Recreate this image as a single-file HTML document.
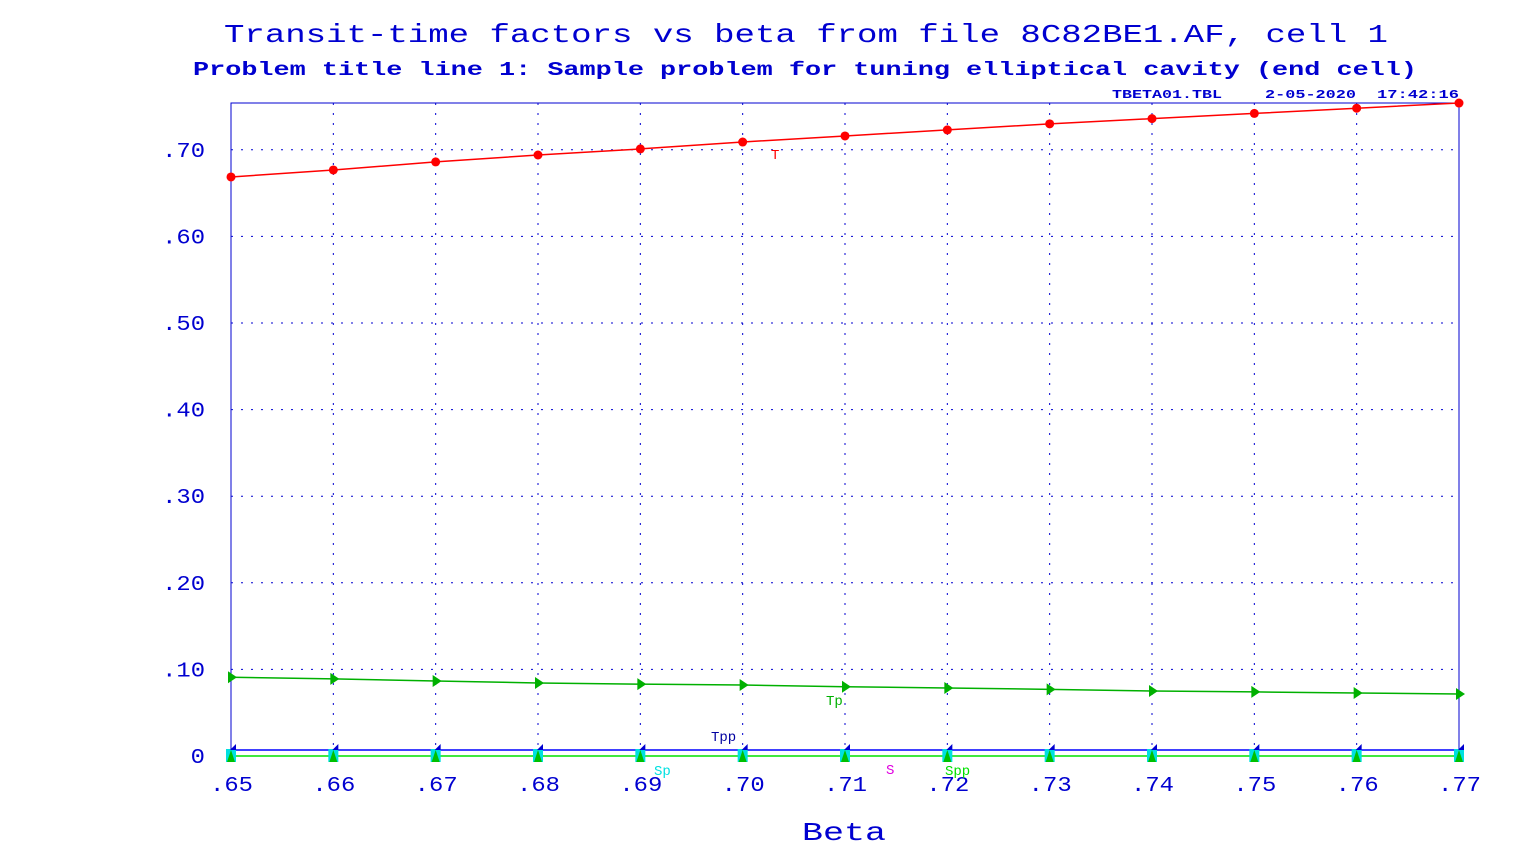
<!DOCTYPE html>
<html><head><meta charset="utf-8"><style>
body{margin:0;background:#fff;}
svg{display:block;font-family:"Liberation Mono",monospace;}
</style></head><body>
<svg id="c" width="1536" height="864">
<text x="224" y="42" font-size="26" fill="#0000d0" textLength="1164" lengthAdjust="spacingAndGlyphs">Transit-time factors vs beta from file 8C82BE1.AF, cell 1</text>
<text x="193" y="75" font-size="19" fill="#0000d0" font-weight="bold" textLength="1224" lengthAdjust="spacingAndGlyphs">Problem title line 1: Sample problem for tuning elliptical cavity (end cell)</text>
<text x="1112" y="98" font-size="12" font-weight="bold" fill="#0000d0" textLength="110" lengthAdjust="spacingAndGlyphs">TBETA01.TBL</text>
<text x="1265" y="98" font-size="12" font-weight="bold" fill="#0000d0" textLength="91" lengthAdjust="spacingAndGlyphs">2-05-2020</text>
<text x="1377" y="98" font-size="12" font-weight="bold" fill="#0000d0" textLength="82" lengthAdjust="spacingAndGlyphs">17:42:16</text>
<text x="802" y="840" font-size="26" fill="#0000d0" textLength="84" lengthAdjust="spacingAndGlyphs">Beta</text>
<g id="grid"></g><g id="marks"></g>
</svg>
<script>
const betas=[0.65,0.66,0.67,0.68,0.69,0.70,0.71,0.72,0.73,0.74,0.75,0.76,0.77];
const xTicks=[".65",".66",".67",".68",".69",".70",".71",".72",".73",".74",".75",".76",".77"];
const yTickVals=[0,0.1,0.2,0.3,0.4,0.5,0.6,0.7];
const yTicks=["0",".10",".20",".30",".40",".50",".60",".70"];
const T=[0.6686,0.6767,0.686,0.694,0.701,0.709,0.716,0.723,0.730,0.736,0.742,0.748,0.754];
const Tp=[0.091,0.089,0.0866,0.0843,0.083,0.082,0.080,0.0785,0.077,0.075,0.074,0.0727,0.0716];
const Tpp=[0.007,0.007,0.007,0.007,0.007,0.007,0.007,0.007,0.007,0.007,0.007,0.007,0.007];
const S=[0,0,0,0,0,0,0,0,0,0,0,0,0];
const Sp=[0,0,0,0,0,0,0,0,0,0,0,0,0];
const Spp=[0,0,0,0,0,0,0,0,0,0,0,0,0];
const NS="http://www.w3.org/2000/svg";
const X0=231,X1=1459,Y0=756,YTOP=103;
const xs=v=>X0+(v-0.65)/(0.77-0.65)*(X1-X0);
const ys=v=>Y0-v*866;
function el(t,a,p){const e=document.createElementNS(NS,t);for(const k in a)e.setAttribute(k,a[k]);p.appendChild(e);return e;}
const g=document.getElementById('grid'),m=document.getElementById('marks');
const frame=el('rect',{x:X0,y:YTOP,width:X1-X0,height:Y0-YTOP,fill:'none',stroke:'#0000d0','stroke-width':1},g);


betas.forEach((b,i)=>{
 const x=xs(b);
 const l=el('line',{x1:x,x2:x,y1:YTOP,y2:Y0,stroke:'#0000d0','stroke-dasharray':'2 8'},g);
 
 
 const t=el('text',{x:x-21,y:791,'font-size':21,fill:'#0000d0',textLength:43,lengthAdjust:'spacingAndGlyphs'},g);t.textContent=xTicks[i];
 
 
});
yTickVals.forEach((v,i)=>{
 const y=ys(v);
 const l=el('line',{x1:X0,x2:X1,y1:y,y2:y,stroke:'#0000d0','stroke-dasharray':'2 8'},g);
 
 
 const w=yTicks[i].length*14.3;
 const t=el('text',{x:205-w,y:y+7,'font-size':21,fill:'#0000d0',textLength:w,lengthAdjust:'spacingAndGlyphs'},g);t.textContent=yTicks[i];
 
 
});
function line(arr,col,name){
 const p=el('polyline',{points:arr.map((v,i)=>xs(betas[i])+','+ys(v)).join(' '),fill:'none',stroke:col,'stroke-width':1.5},m);
 
 
}
line(S,'#00e000','s-line');line(Tpp,'#0000ff','tpp-line');
line(Tp,'#00b000','tp-line');line(T,'#ff0000','t-line');
betas.forEach((b,i)=>{
 const x=xs(b);
 let e=el('rect',{x:x-5,y:ys(Sp[i])-7,width:10,height:13,fill:'#00e0e0'},m);
 
 
 e=el('polygon',{points:`${x-4},${ys(Spp[i])+6} ${x+4},${ys(Spp[i])+6} ${x},${ys(Spp[i])-6}`,fill:'#00c000'},m);
 
 
 e=el('polygon',{points:`${x-1},${ys(Tpp[i])} ${x+5},${ys(Tpp[i])} ${x+5},${ys(Tpp[i])-6}`,fill:'#0000d0'},m);
 
 
 e=el('polygon',{points:`${x-3},${ys(Tp[i])-6} ${x-3},${ys(Tp[i])+6} ${x+6},${ys(Tp[i])}`,fill:'#00b000'},m);
 
 
 e=el('circle',{cx:x,cy:ys(T[i]),r:4.5,fill:'#ff0000'},m);
 
 
});
function lab(txt,x,y,col,name){const t=el('text',{x:x,y:y,'font-size':14,fill:col},m);t.textContent=txt;
 
 }
lab('T',771,159,'#ff0000','t-series-label');
lab('Tp',826,705,'#00b000','tp-series-label');
lab('Tpp',711,741,'#0000a0','tpp-series-label');
lab('Sp',654,775,'#00e0e0','sp-series-label');
lab('S',886,774,'#e000e0','s-series-label');
lab('Spp',945,775,'#00e000','spp-series-label');
</script>
</body></html>
